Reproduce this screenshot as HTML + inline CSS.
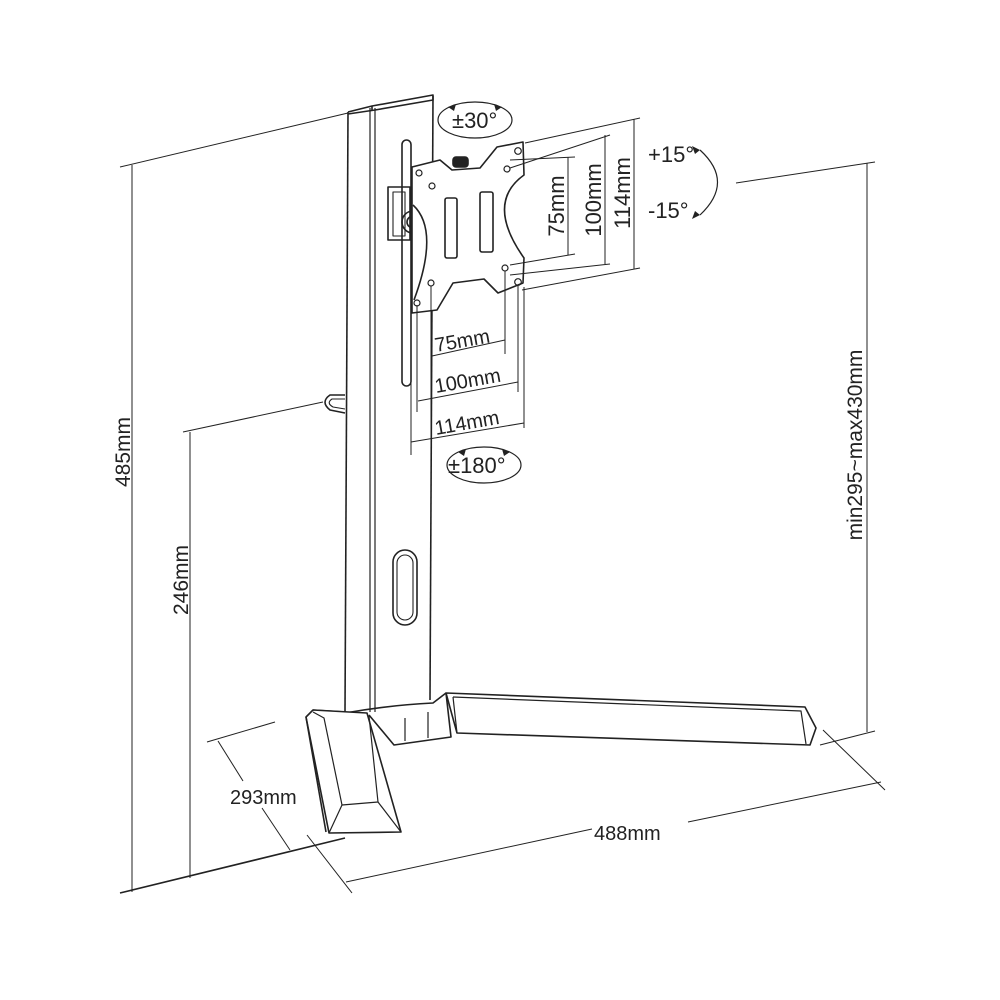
<!DOCTYPE html>
<html><head><meta charset="utf-8"><style>
html,body{margin:0;padding:0;background:#fff;}
svg{display:block}
text{font-family:"Liberation Sans",sans-serif;fill:#222;}
</style></head><body>
<svg width="1000" height="1000" viewBox="0 0 1000 1000" xmlns="http://www.w3.org/2000/svg">
<rect width="1000" height="1000" fill="#fff"/>
<g fill="none" stroke="#222" stroke-width="1.6" stroke-linejoin="round">
<!-- dimension lines left -->
<line x1="120" y1="167" x2="348" y2="113" stroke-width="1"/>
<line x1="132" y1="165" x2="132" y2="892" stroke-width="1"/>
<line x1="120" y1="893" x2="345" y2="838" stroke-width="1.6"/>
<line x1="183" y1="432" x2="323" y2="402" stroke-width="1"/>
<line x1="190" y1="432" x2="190" y2="878" stroke-width="1"/>
<!-- column -->
<path d="M348 112 L345 712"/>
<path d="M370 108 L370 712" stroke-width="1.2"/>
<path d="M375 108 L375 712" stroke-width="1.2"/>
<path d="M433 96 L430 700"/>
<path d="M348 112 L372 106 L433 95 L433 100 L375 110 L348 114"/>
<path d="M372 106 L372 111"/>
<!-- handle -->
<path d="M345 395 L330 395 Q320 402 330 410 L345 413"/>
<path d="M345 399 L332 399 Q326 403 333 407 L345 409" stroke-width="1.1"/>
<!-- slot -->
<rect x="402" y="140" width="9" height="246" rx="4.5"/>
<!-- cable hole -->
<rect x="393" y="550" width="24" height="75" rx="12"/>
<rect x="397" y="555" width="16" height="65" rx="8" stroke-width="1.1"/>
<!-- bracket -->
<rect x="388" y="187" width="22" height="53"/>
<rect x="393" y="192" width="12" height="44" stroke-width="1.1"/>
<circle cx="413" cy="222" r="11"/>
<circle cx="413" cy="222" r="6"/>
<circle cx="424" cy="244" r="3" fill="#222"/>
<!-- plate -->
<path d="M412 167 L440 160 L452 170 L480 168 L497 147 L523 142 L524 175 Q485 203 524 258 L523 283 L498 293 L484 279 L453 283 L437 310 L412 313 Z" fill="#fff"/>
<rect x="453" y="157" width="15" height="10" rx="3" fill="#222"/>
<g stroke-width="1.2">
<circle cx="518" cy="151" r="3.3"/><circle cx="507" cy="169" r="3"/>
<circle cx="432" cy="186" r="3"/><circle cx="419" cy="173" r="3"/>
<circle cx="505" cy="268" r="3"/><circle cx="518" cy="282" r="3.3"/>
<circle cx="431" cy="283" r="3"/><circle cx="417" cy="303" r="3"/>
</g>
<rect x="445" y="198" width="12" height="60" rx="2"/>
<rect x="480" y="192" width="13" height="60" rx="2"/>
<path d="M413 205 Q440 230 414 300" />
<!-- VESA dims right -->
<g stroke-width="1">
<line x1="525" y1="143" x2="640" y2="118"/>
<line x1="510" y1="168" x2="610" y2="135"/>
<line x1="510" y1="160" x2="575" y2="157"/>
<line x1="510" y1="265" x2="575" y2="254"/>
<line x1="510" y1="275" x2="610" y2="264"/>
<line x1="522" y1="290" x2="640" y2="268"/>
<line x1="568" y1="157" x2="568" y2="255"/>
<line x1="605" y1="135" x2="605" y2="264"/>
<line x1="634" y1="119" x2="634" y2="269"/>
<line x1="411" y1="313" x2="411" y2="455"/>
<line x1="417" y1="305" x2="417" y2="412"/>
<line x1="431" y1="286" x2="431" y2="480"/>
<line x1="505" y1="271" x2="505" y2="354"/>
<line x1="518" y1="285" x2="518" y2="392"/>
<line x1="524" y1="287" x2="524" y2="428"/>
<line x1="432" y1="356" x2="505" y2="340"/>
<line x1="418" y1="401" x2="518" y2="382"/>
<line x1="411" y1="442" x2="524" y2="423"/>
<line x1="736" y1="183" x2="875" y2="162"/>
<line x1="867" y1="163" x2="867" y2="732"/>
<line x1="820" y1="745" x2="875" y2="731"/>
<line x1="207" y1="742" x2="275" y2="722"/>
<line x1="218" y1="741" x2="243" y2="781"/>
<line x1="262" y1="808" x2="290" y2="850"/>
<line x1="307" y1="835" x2="352" y2="893"/>
<line x1="823" y1="730" x2="885" y2="790"/>
<line x1="346" y1="882" x2="592" y2="829"/>
<line x1="688" y1="822" x2="881" y2="782"/>
</g>
<!-- rotation ellipses -->
<ellipse cx="475" cy="120" rx="37" ry="18" stroke-width="1.2"/>
<ellipse cx="484" cy="465" rx="37" ry="18" stroke-width="1.2"/>
<path d="M700 150 Q735 182 700 215" stroke-width="1.2"/>
<!-- base hub -->
<path d="M345 713 Q390 705 433 703 L446 693"/>
<path d="M313 710 L345 712"/>
<path d="M369 715 L394 745 L451 737 L446 693"/>
<path d="M405 741 L405 718 M428 738 L428 712" stroke-width="1.2"/>
<!-- front foot -->
<path d="M306 717 L313 710 L367 713 L401 832 L329 833 Z" fill="#fff"/>
<path d="M313 712 L324 718 L342 805 L378 802 L369 716" stroke-width="1.2"/>
<path d="M342 805 L329 833 M378 802 L401 832" stroke-width="1.2"/>
<path d="M306 717 L326 832"/>
<!-- right leg -->
<path d="M446 693 L805 707 L816 728 L810 745 L457 733 Z" fill="#fff"/>
<path d="M453 697 L801 711 L806 744" stroke-width="1.2"/>
<path d="M453 697 L457 733" stroke-width="1.2"/>
</g>
<g fill="#222">
<path d="M700 150 l-8 -4 l3 8 z"/>
<path d="M700 215 l-8 4 l3 -8 z"/>
<path d="M456 104 l-8 3 l6 4 z"/><path d="M494 104 l8 3 l-6 4 z"/>
<path d="M466 449 l-8 3 l6 4 z"/><path d="M502 449 l8 3 l-6 4 z"/>
</g>
<g font-size="22">
<text x="452" y="128">±30°</text>
<text x="448" y="473">±180°</text>
<text x="648" y="162">+15°</text>
<text x="648" y="218">-15°</text>
<text transform="translate(564,206) rotate(-90)" text-anchor="middle">75mm</text>
<text transform="translate(601,200) rotate(-90)" text-anchor="middle">100mm</text>
<text transform="translate(630,193) rotate(-90)" text-anchor="middle">114mm</text>
<text transform="translate(436,352) rotate(-10)" font-size="20">75mm</text>
<text transform="translate(436,393) rotate(-10)" font-size="20">100mm</text>
<text transform="translate(436,435) rotate(-10)" font-size="20">114mm</text>
<text transform="translate(130,452) rotate(-90)" text-anchor="middle" font-size="21">485mm</text>
<text transform="translate(188,580) rotate(-90)" text-anchor="middle" font-size="21">246mm</text>
<text transform="translate(862,445) rotate(-90)" text-anchor="middle" font-size="21">min295~max430mm</text>
<text x="230" y="804" font-size="20">293mm</text>
<text x="594" y="840" font-size="20">488mm</text>
</g>
</svg>
</body></html>
